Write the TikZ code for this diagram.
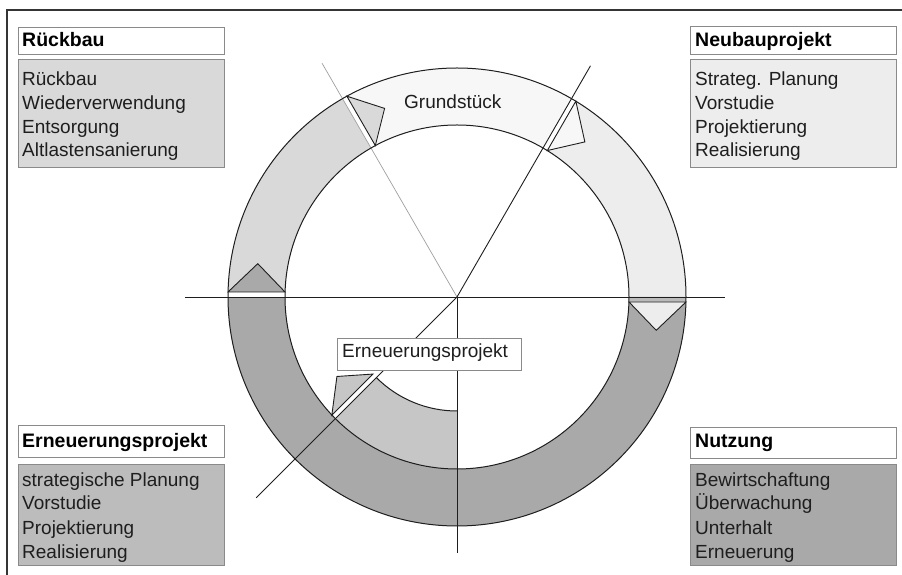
\documentclass[tikz,border=0pt]{standalone}
\usepackage{fontspec}
\setmainfont{Liberation Sans}
\usetikzlibrary{calc}
\definecolor{cGrund}{HTML}{F7F7F7}
\definecolor{cNeu}{HTML}{EDEDED}
\definecolor{cRueck}{HTML}{D9D9D9}
\definecolor{cNutz}{HTML}{A9A9A9}
\definecolor{cErn}{HTML}{C6C6C6}
\definecolor{cStrip}{HTML}{BBBBBB}
\definecolor{boxborder}{HTML}{8A8A8A}
\definecolor{ink}{HTML}{1E1E1E}
\begin{document}
\begin{tikzpicture}[x=1pt,y=1pt,
  titlebox/.style={draw=boxborder, fill=white, line width=0.9pt, minimum width=206pt, anchor=north west, inner sep=0pt},
  bodybox/.style={draw=boxborder, line width=0.9pt, minimum width=206pt, anchor=north west, inner sep=0pt},
  txt/.style={anchor=base west, inner sep=0pt, text=ink, font=\fontsize{19}{22}\selectfont},
  ttl/.style={anchor=base west, inner sep=0pt, text=black, font=\bfseries\fontsize{19.5}{22}\selectfont},
  ringline/.style={draw=ink, line width=1pt},
  axis/.style={draw=ink, line width=0.9pt},
  thinaxis/.style={draw=gray!75, line width=0.7pt},
  arrowtri/.style={draw=ink, line width=0.9pt}
]
\useasboundingbox (0,0) rectangle (902,575);
% frame
\draw[draw=ink!90, line width=1.2pt] (7,0) -- (7,565) -- (902,565);

\coordinate (C) at (457,278);
\def\Ro{229}
\def\Ri{172}
\def\Rb{114}

% ring segments
\fill[cNeu] ($(C)+(0:\Ro)$) arc[start angle=0,end angle=60,radius=\Ro] -- ($(C)+(60:\Ri)$) arc[start angle=60,end angle=0,radius=\Ri] -- cycle;
\fill[cGrund] ($(C)+(60:\Ro)$) arc[start angle=60,end angle=120,radius=\Ro] -- ($(C)+(120:\Ri)$) arc[start angle=120,end angle=60,radius=\Ri] -- cycle;
\fill[cRueck] ($(C)+(120:\Ro)$) arc[start angle=120,end angle=180,radius=\Ro] -- ($(C)+(180:\Ri)$) arc[start angle=180,end angle=120,radius=\Ri] -- cycle;
\fill[cNutz] ($(C)+(180:\Ro)$) arc[start angle=180,end angle=360,radius=\Ro] -- ($(C)+(360:\Ri)$) arc[start angle=360,end angle=180,radius=\Ri] -- cycle;
\fill[cErn] ($(C)+(225:\Ri)$) arc[start angle=225,end angle=270,radius=\Ri] -- ($(C)+(270:\Rb)$) arc[start angle=270,end angle=225,radius=\Rb] -- cycle;

% strips (double lines) and arrow triangles
\foreach \a/\ri/\ro/\sc/\tc/\apa/\apr in {0/\Ri/\Ro/cStrip/cNeu/-9.5/202, 60/\Ri/\Ro/white/cGrund/50.5/201, 120/\Ri/\Ro/white/cRueck/111/202, 180/\Ri/\Ro/white/cNutz/170.5/202, 225/\Rb/\Ri/white/cErn/213.5/144}{
  \fill[\sc] ($(C)+(\a:\ri)$) -- ($(C)+(\a:\ro)$) -- ($(C)+(\a:\ro)+(\a-90:5)$) -- ($(C)+(\a:\ri)+(\a-90:5)$) -- cycle;
  \filldraw[arrowtri, fill=\tc] ($(C)+(\a:\ro)+(\a-90:5)$) -- ($(C)+(\apa:\apr)$) -- ($(C)+(\a:\ri)+(\a-90:5)$) -- cycle;
}

% axes
\coordinate (hl) at (185,278);
\coordinate (hr) at (725,278);
\coordinate (vb) at (457,22);
\coordinate (ul) at ($(C)+(120:270)$);
\coordinate (ur) at ($(C)+(60:267)$);
\coordinate (ll) at ($(C)+(225:284)$);
\draw[axis] (hl) -- (hr);
\draw[axis] (C) -- (vb);
\draw[thinaxis] (C) -- (ul);
\draw[axis] (C) -- (ur);
\draw[axis] (C) -- (ll);

% circles
\draw[ringline] (C) circle[radius=\Ro];
\draw[ringline] (C) circle[radius=\Ri];
\draw[ringline] ($(C)+(225:\Rb)$) arc[start angle=225,end angle=270,radius=\Rb];

% ring labels
\node[txt] (grund) at (404,466) {Grundstück};
\node[draw=boxborder, fill=white, line width=0.9pt, minimum width=184pt, minimum height=32pt, anchor=north west, inner sep=0pt] (ernlabel) at (337,237) {};
\node[txt] (erntxt) at (342,217) {Erneuerungsprojekt};

% Rückbau
\node[titlebox, minimum height=27pt] (rt) at (18,548) {};
\node[ttl] at (22,528) {Rückbau};
\node[bodybox, fill=cRueck, minimum height=108pt] (rb) at (18,516) {};
\node[txt] at (22,489) {Rückbau};
\node[txt] at (22,465) {Wiederverwendung};
\node[txt] at (22,441) {Entsorgung};
\node[txt] at (22,418) {Altlastensanierung};

% Neubauprojekt
\node[titlebox, minimum height=28pt] (nt) at (690,549) {};
\node[ttl] at (695,528) {Neubauprojekt};
\node[bodybox, fill=cNeu, minimum height=108pt] (nb) at (690,516) {};
\node[txt] at (695,489) {Strateg. Planung};
\node[txt] at (695,465) {Vorstudie};
\node[txt] at (695,441) {Projektierung};
\node[txt] at (695,418) {Realisierung};

% Erneuerungsprojekt
\node[titlebox, minimum height=32pt] (et) at (18,150) {};
\node[ttl] at (22,127) {Erneuerungsprojekt};
\node[bodybox, fill=cErn!95!black, minimum height=101pt] (eb) at (18,111) {};
\node[txt] at (22,88) {strategische Planung};
\node[txt] at (22,65) {Vorstudie};
\node[txt] at (22,40) {Projektierung};
\node[txt] at (22,16) {Realisierung};

% Nutzung
\node[titlebox, minimum height=31pt] (ut) at (690,148) {};
\node[ttl] at (695,127) {Nutzung};
\node[bodybox, fill=cNutz, minimum height=101pt] (ub) at (690,111) {};
\node[txt] at (695,88) {Bewirtschaftung};
\node[txt] at (695,65) {Überwachung};
\node[txt] at (695,40) {Unterhalt};
\node[txt] at (695,16) {Erneuerung};
\end{tikzpicture}
\end{document}
